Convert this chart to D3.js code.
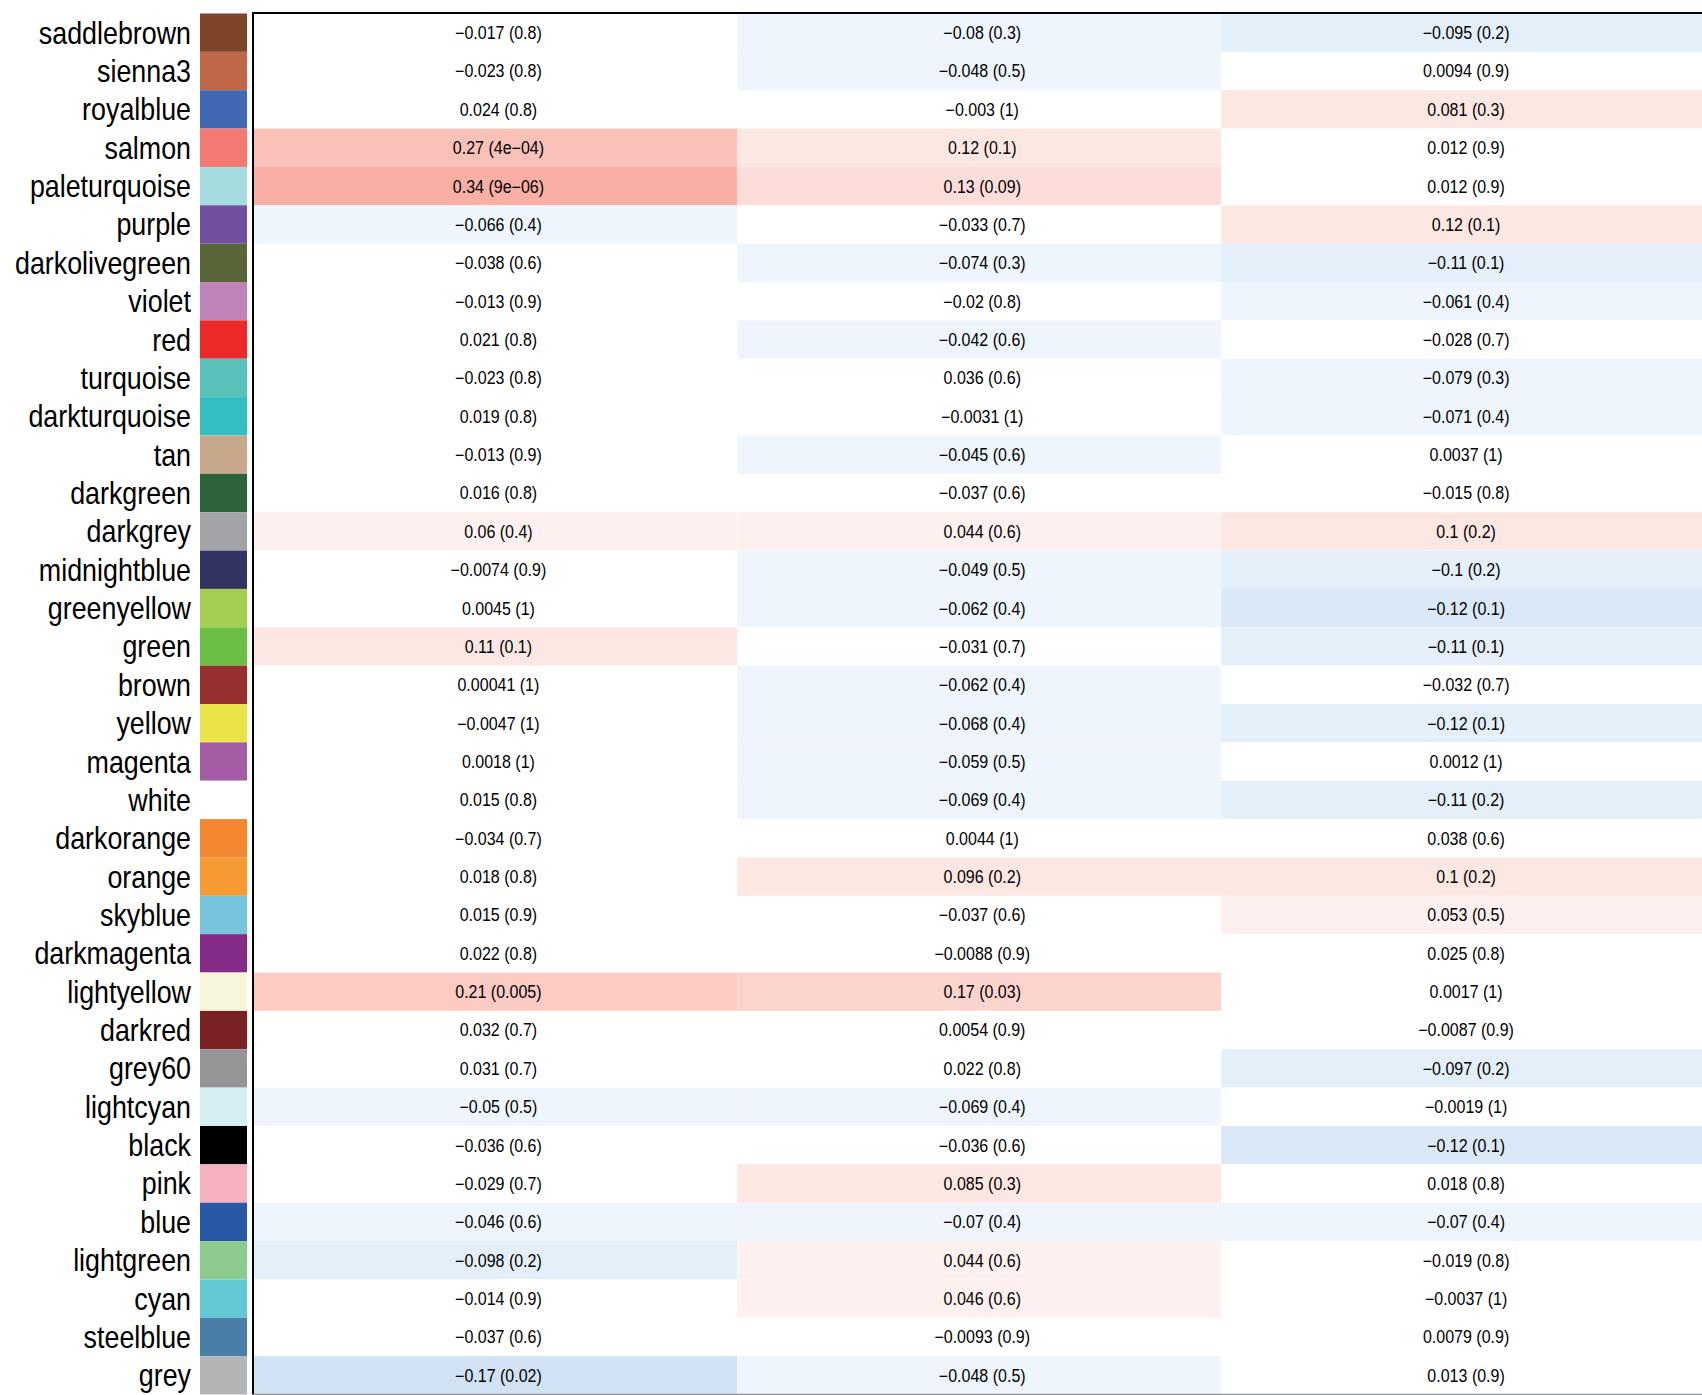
<!DOCTYPE html>
<html>
<head>
<meta charset="utf-8">
<script src="https://cdn.jsdelivr.net/npm/d3@7"></script>
<style>
  html, body { margin: 0; padding: 0; background: #fff; }
  svg { display: block; }
</style>
</head>
<body>
<div id="chart"></div>
<script>
// ---------------- data ----------------
const modules = ["saddlebrown","sienna3","royalblue","salmon","paleturquoise","purple",
  "darkolivegreen","violet","red","turquoise","darkturquoise","tan","darkgreen","darkgrey",
  "midnightblue","greenyellow","green","brown","yellow","magenta","white","darkorange",
  "orange","skyblue","darkmagenta","lightyellow","darkred","grey60","lightcyan","black",
  "pink","blue","lightgreen","cyan","steelblue","grey"];

const swatchColors = ["#7F4529","#C0674A","#4169B3","#F27A72","#A6DCDF","#72509F",
  "#596638","#BE84B9","#EC2A2A","#5BC2B9","#33BFC1","#C7A88A","#2C633A","#A3A4A8",
  "#333361","#A6CE51","#6CBE45","#972F2F","#EAE34A","#A45CA5","#FFFFFF","#F48832",
  "#F69A34","#78C4DC","#842A87","#F7F7DB","#7B2225","#959598","#D5EEF2","#000000",
  "#F6B2C1","#2858A6","#8CCB8D","#65C8D5","#4A7EA8","#B3B4B6"];

const traits = ["trait1","trait2","trait3"];

const corrTrait1 = [-0.017,-0.023,0.024,0.27,0.34,-0.066,-0.038,-0.013,0.021,-0.023,0.019,-0.013,
  0.016,0.06,-0.0074,0.0045,0.11,0.00041,-0.0047,0.0018,0.015,-0.034,0.018,0.015,0.022,0.21,
  0.032,0.031,-0.05,-0.036,-0.029,-0.046,-0.098,-0.014,-0.037,-0.17];
const pTrait1 = [0.8,0.8,0.8,4e-4,9e-6,0.4,0.6,0.9,0.8,0.8,0.8,0.9,0.8,0.4,0.9,1,0.1,1,1,1,
  0.8,0.7,0.8,0.9,0.8,0.005,0.7,0.7,0.5,0.6,0.7,0.6,0.2,0.9,0.6,0.02];

const corrTrait2 = [-0.0798,-0.048,-0.003,0.118,0.13,-0.033,-0.074,-0.02,-0.042,0.036,-0.0031,
  -0.045,-0.037,0.044,-0.049,-0.062,-0.031,-0.062,-0.068,-0.059,-0.069,0.0044,0.096,-0.037,
  -0.0088,0.17,0.0054,0.022,-0.069,-0.036,0.085,-0.07,0.044,0.046,-0.0093,-0.048];
const pTrait2 = [0.3,0.5,1,0.1,0.09,0.7,0.3,0.8,0.6,0.6,1,0.6,0.6,0.6,0.5,0.4,0.7,0.4,0.4,0.5,
  0.4,1,0.2,0.6,0.9,0.03,0.9,0.8,0.4,0.6,0.3,0.4,0.6,0.6,0.9,0.5];

const corrTrait3 = [-0.095,0.0094,0.081,0.012,0.012,0.118,-0.11,-0.061,-0.028,-0.079,-0.071,
  0.0037,-0.015,0.1,-0.1,-0.121,-0.11,-0.032,-0.119,0.0012,-0.11,0.038,0.1,0.053,0.025,0.0017,
  -0.0087,-0.097,-0.0019,-0.121,0.018,-0.07,-0.019,-0.0037,0.0079,0.013];
const pTrait3 = [0.2,0.9,0.3,0.9,0.9,0.1,0.1,0.4,0.7,0.3,0.4,1,0.8,0.2,0.2,0.1,0.1,0.7,0.1,1,
  0.2,0.6,0.2,0.5,0.8,1,0.9,0.2,1,0.1,0.8,0.4,0.8,1,0.9,0.9];

// ---------------- build table ----------------
const corrs = [corrTrait1, corrTrait2, corrTrait3];
const pvals = [pTrait1, pTrait2, pTrait3];
const cells = [];
modules.forEach((m, i) => {
  traits.forEach((t, j) => {
    cells.push({ module: m, trait: t, r: corrs[j][i], p: pvals[j][i] });
  });
});

// R-like signif formatting
function rFormat(v, digits) {
  const n = +(+v).toPrecision(digits);
  const fixed = String(n);
  let sci = n.toExponential();
  sci = sci.replace(/e([+-])(\d)$/, "e$10$2");
  const s = fixed.length > sci.length ? sci : fixed;
  return s.replace(/-/g, "\u2212");
}

// blue-white-red palette (50 steps over [-1, 1])
const blueEnd = [0.05, 0.41, 0.80], redEnd = [0.93, 0.12, 0.0];
const palette = d3.range(50).map(i => {
  const k = i <= 24 ? 24 - i : i - 25;
  const end = i <= 24 ? blueEnd : redEnd;
  const f = k === 0 ? 0 : Math.min(1, (k + 0.6) / 24);
  return d3.rgb(...end.map(c => Math.round(255 - f * (255 - c * 255)))).formatHex();
});
const color = d3.scaleQuantize().domain([-1, 1]).range(palette);

// ---------------- layout ----------------
const W = 1702, H = 1395;
const plotLeft = 253.5, plotTop = 13.5, plotBottom = 1394.5, plotRight = 1705;

const y = d3.scaleBand().domain(modules).range([plotTop, plotBottom]).padding(0);
const x = d3.scaleBand().domain(traits).range([plotLeft, plotRight]).padding(0);

const svg = d3.select("#chart").append("svg").attr("width", W).attr("height", H);
svg.append("rect").attr("width", W).attr("height", H).attr("fill", "#fff");

// heatmap cells
svg.append("g").selectAll("rect").data(cells).join("rect")
  .attr("x", d => x(d.trait))
  .attr("y", d => y(d.module))
  .attr("width", x.bandwidth())
  .attr("height", y.bandwidth())
  .attr("fill", d => color(d.r));

// cell text
svg.append("g").selectAll("text").data(cells).join("text")
  .attr("transform", d => `translate(${x(d.trait) + x.bandwidth() / 2 + 3},${y(d.module) + y.bandwidth() / 2}) scale(0.9,1)`)
  .attr("dy", "0.36em")
  .attr("text-anchor", "middle")
  .attr("font-family", "'Liberation Sans', Arial, Helvetica, sans-serif")
  .attr("font-size", 17.8)
  .attr("fill", "#000")
  .text(d => `${rFormat(d.r, 2)} (${rFormat(d.p, 1)})`);

// module colour swatches
svg.append("g").selectAll("rect").data(modules).join("rect")
  .attr("x", 200)
  .attr("y", d => y(d))
  .attr("width", 47)
  .attr("height", y.bandwidth())
  .attr("fill", (d, i) => swatchColors[i]);

// module labels
svg.append("g").selectAll("text").data(modules).join("text")
  .attr("transform", d => `translate(191,${y(d) + y.bandwidth() / 2}) scale(0.88,1)`)
  .attr("dy", "0.36em")
  .attr("text-anchor", "end")
  .attr("font-family", "'Liberation Sans', Arial, Helvetica, sans-serif")
  .attr("font-size", 30.5)
  .attr("fill", "#000")
  .text(d => d);

// plot frame
svg.append("line").attr("x1", plotLeft).attr("x2", plotRight)
  .attr("y1", plotTop - 0.5).attr("y2", plotTop - 0.5)
  .attr("stroke", "#000").attr("stroke-width", 2);
svg.append("line").attr("x1", plotLeft - 0.5).attr("x2", plotLeft - 0.5)
  .attr("y1", plotTop - 1.5).attr("y2", plotBottom)
  .attr("stroke", "#000").attr("stroke-width", 2);
svg.append("line").attr("x1", plotLeft).attr("x2", plotRight)
  .attr("y1", plotBottom).attr("y2", plotBottom)
  .attr("stroke", "#8e9399").attr("stroke-width", 1.5);
</script>
</body>
</html>
